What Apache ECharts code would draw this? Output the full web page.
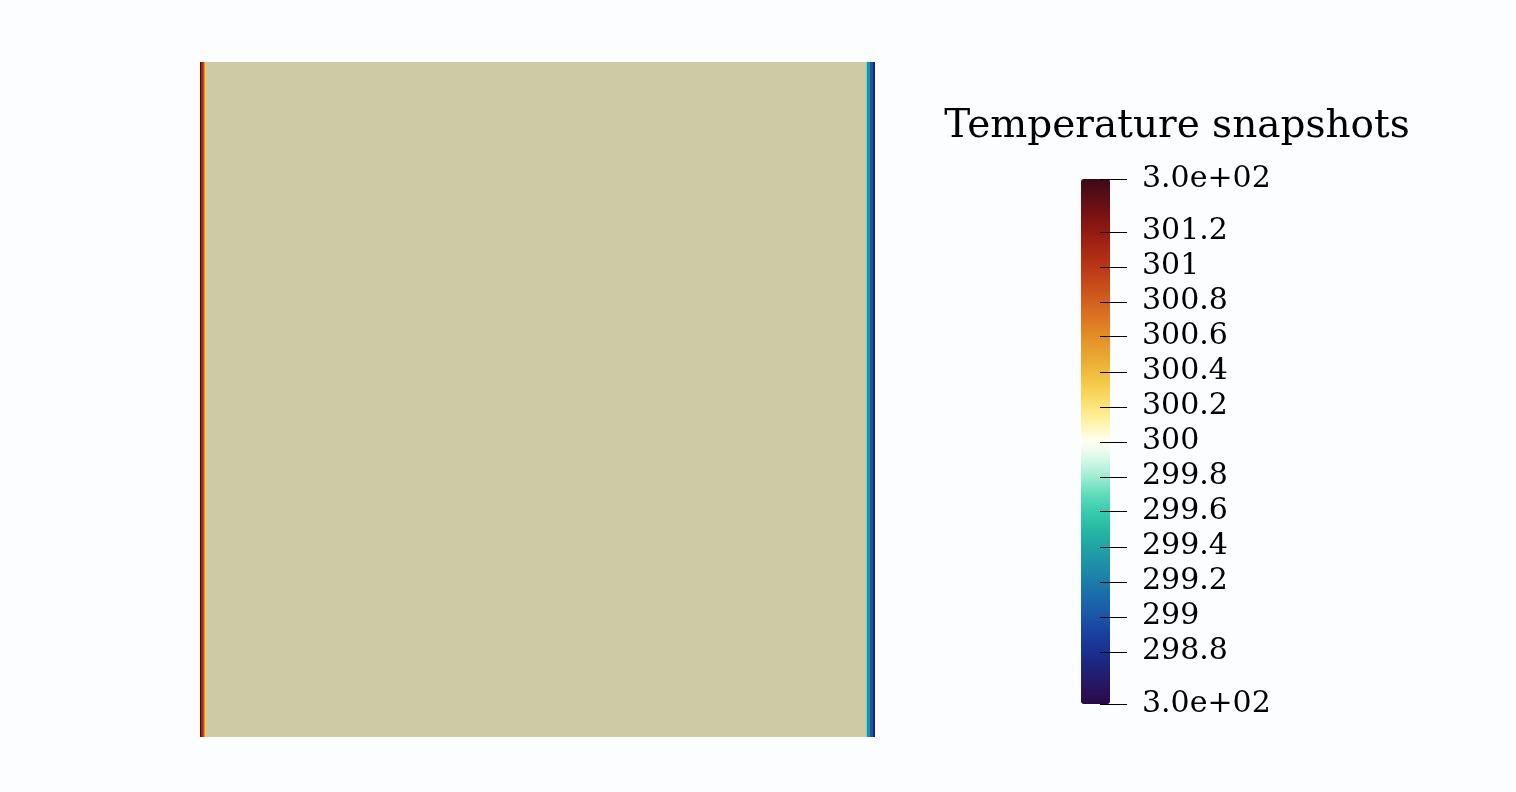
<!DOCTYPE html>
<html>
<head>
<meta charset="utf-8">
<script src="https://cdn.jsdelivr.net/npm/echarts@6/dist/echarts.min.js"></script>
<style>
html,body{margin:0;padding:0;background:#fcfdff;}
#c{width:1516px;height:792px;}
</style>
</head>
<body>
<div id="c"></div>
<script>
// Temperature profile across the domain (x in [0,1]), boundary layers at the walls
const xStart = [0, 0.0015, 0.0044, 0.0059, 0.0074, 0.9867, 0.9881, 0.9926, 0.9970];
const xEnd   = [0.0015, 0.0044, 0.0059, 0.0074, 0.0089, 0.9881, 0.9926, 0.9970, 1.0];
const temps  = [301.45, 301.15, 300.9, 300.6, 300.3, 299.7, 299.3, 299.0, 298.7];
// Interior (bulk) region
const interior = [[0.0089, 0.9867, 300.0]];

const tempMin = 298.5;
const tempMax = 301.5;
const tickValues = [298.5, 298.8, 299, 299.2, 299.4, 299.6, 299.8, 300, 300.2, 300.4, 300.6, 300.8, 301, 301.2, 301.5];
const endLabel = '3.0e+02';
const titleText = 'Temperature snapshots';

const cmap = ['#2a0a48','#261560','#1e2278','#1a3090','#1a40a0','#1a55a8','#1a68aa','#1c7caa','#1e90a8','#20a4a4',
  '#26b8a4','#38ccae','#62dcbc','#a0ecd4','#d8f8e8','#fffff4','#fff4b0','#fce47a','#f6d052','#f0ba3c',
  '#e8a430','#e28e28','#dc7622','#d2601e','#c84a1a','#ba3616','#a82614','#921a12','#781212','#5a0e14','#3c0a18'];

const profile = xStart.map((x0, i) => [x0, xEnd[i], temps[i]]);

function renderSeg(params, api) {
  const p0 = api.coord([api.value(0), 1]);
  const p1 = api.coord([api.value(1), 0]);
  return {type: 'rect', shape: {x: p0[0], y: p0[1], width: p1[0] - p0[0], height: p1[1] - p0[1]},
    style: {fill: api.visual('color')}};
}
function renderTick(params, api) {
  const a = api.coord([0, api.value(0)]);
  const b = api.coord([1, api.value(0)]);
  const y = Math.round(a[1]) + 0.5;
  return {type: 'line', shape: {x1: a[0], y1: y, x2: b[0], y2: y},
    style: {stroke: '#000', lineWidth: 1}};
}

const chart = echarts.init(document.getElementById('c'));
chart.setOption({
  backgroundColor: '#fcfdff',
  animation: false,
  grid: [
    {left: 200, top: 62, width: 675, height: 675},
    {left: 1100, top: 179, width: 27, height: 525}
  ],
  xAxis: [
    {type: 'value', min: 0, max: 1, show: false, gridIndex: 0},
    {type: 'value', min: 0, max: 1, show: false, gridIndex: 1}
  ],
  yAxis: [
    {type: 'value', min: 0, max: 1, show: false, gridIndex: 0},
    {type: 'value', min: tempMin, max: tempMax, gridIndex: 1, position: 'right',
      splitLine: {show: false}, axisLine: {show: false}, axisTick: {show: false},
      axisLabel: {show: true, margin: 15, customValues: tickValues, color: '#000',
        fontFamily: 'DejaVu Serif', fontSize: 30,
        formatter: v => (v === tempMin || v === tempMax) ? endLabel : String(v)}}
  ],
  visualMap: {
    type: 'continuous', min: tempMin, max: tempMax, dimension: 2, seriesIndex: 0, z: 1,
    left: 1081, top: 179, itemWidth: 29, itemHeight: 525, padding: 0,
    text: ['', ''], calculable: false, showLabel: false, realtime: false,
    inRange: {color: cmap}, textStyle: {fontSize: 1, color: 'rgba(0,0,0,0)'}
  },
  graphic: [{
    type: 'text', x: 1177, y: 127,
    style: {text: titleText, fontFamily: 'DejaVu Serif', fontSize: 39, fill: '#000',
      textAlign: 'center', textVerticalAlign: 'middle', verticalAlign: 'middle', align: 'center'}
  }],
  series: [
    {type: 'custom', xAxisIndex: 0, yAxisIndex: 0, renderItem: renderSeg, data: profile,
      encode: {x: [0, 1]}, silent: true},
    {type: 'custom', xAxisIndex: 0, yAxisIndex: 0, renderItem: renderSeg, data: interior,
      encode: {x: [0, 1]}, itemStyle: {color: '#cecaa6'}, silent: true},
    {type: 'custom', xAxisIndex: 1, yAxisIndex: 1, renderItem: renderTick, data: tickValues.map(v => [v]),
      encode: {y: 0}, z: 10, zlevel: 1, silent: true, clip: false}
  ]
});
</script>
</body>
</html>
